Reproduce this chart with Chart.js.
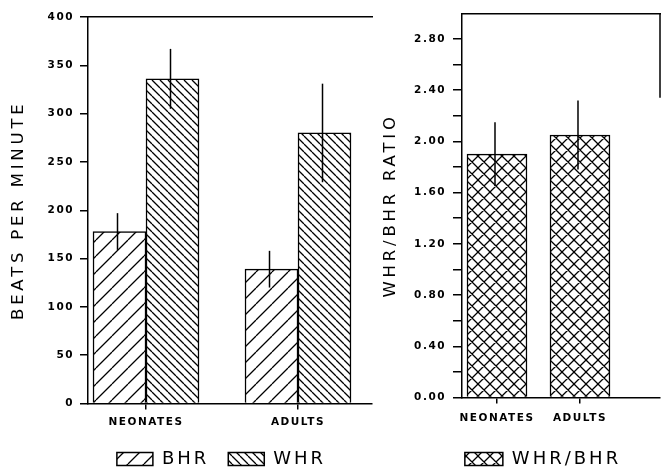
<!DOCTYPE html>
<html><head><meta charset="utf-8">
<script src="https://cdn.jsdelivr.net/npm/chart.js@4.4.1/dist/chart.umd.min.js"></script>
<style>
html,body{margin:0;padding:0;background:#fff;overflow:hidden;width:662px;height:470px;position:relative;}
canvas{position:absolute;top:0;}
#left{left:0;}
#right{left:370px;}
</style></head><body>
<canvas id="left" width="443" height="478"></canvas>
<canvas id="right" width="346" height="478"></canvas>
<script>
// ---- data ----
const categories = ['NEONATES', 'ADULTS'];
const bhrValues = [178, 139];
const bhrErrors = [19, 19];
const whrValues = [336, 280];
const whrErrors = [31, 51];
const ratioValues = [1.90, 2.05];
const ratioErrors = [0.25, 0.27];
const leftTicks = [0, 50, 100, 150, 200, 250, 300, 350, 400];
const rightTicks = [0, 0.2, 0.4, 0.6, 0.8, 1.0, 1.2, 1.4, 1.6, 1.8, 2.0, 2.2, 2.4, 2.6, 2.8];
const rightLabeledTicks = [0, 0.4, 0.8, 1.2, 1.6, 2.0, 2.4, 2.8];
const rightEdgeEnd = 2.34;

Chart.defaults.font.family = "'DejaVu Sans', sans-serif";
Chart.defaults.color = '#000';

function hatch(ctx, kind, s, lw) {
  const c = document.createElement('canvas'); c.width = s; c.height = s;
  const g = c.getContext('2d');
  g.fillStyle = '#fff'; g.fillRect(0, 0, s, s);
  g.strokeStyle = '#000'; g.lineWidth = lw;
  g.beginPath();
  for (const k of [-s, 0, s]) {
    if (kind === '/' || kind === 'x') { g.moveTo(k, s); g.lineTo(k + s, 0); }
    if (kind === '\\' || kind === 'x') { g.moveTo(k, 0); g.lineTo(k + s, s); }
  }
  g.stroke();
  return ctx.createPattern(c, 'repeat');
}

function withSpacing(obj, name, sp) {
  const key = '__ls_' + name;
  if (!obj || obj[key] || typeof obj[name] !== 'function') return;
  const orig = obj[name];
  obj[name] = function (...args) {
    const c = this.ctx; const prev = c.letterSpacing; c.letterSpacing = sp;
    try { return orig.apply(this, args); } finally { c.letterSpacing = prev; }
  };
  obj[key] = true;
}
function applySpacing(chart) {
  Object.values(chart.scales).forEach(s => { withSpacing(s, 'drawLabels', '1.5px'); withSpacing(s, 'drawTitle', '3.8px'); });
  if (chart.legend) { withSpacing(chart.legend, 'fit', '3px'); withSpacing(chart.legend, 'draw', '3px'); }
}
const spacingPlugin = { id: 'spacing', beforeLayout: applySpacing, beforeDraw: applySpacing };

const errorBars = { id: 'errorBars', afterDatasetsDraw(chart) {
  const ctx = chart.ctx; const y = chart.scales.y;
  ctx.save(); ctx.strokeStyle = '#000'; ctx.lineWidth = 1.5;
  chart.data.datasets.forEach((ds, i) => {
    const meta = chart.getDatasetMeta(i);
    meta.data.forEach((el, j) => {
      const v = ds.data[j].y, e = ds.errors[j];
      const x = el.x - 2;
      ctx.beginPath();
      ctx.moveTo(x, y.getPixelForValue(v + e));
      ctx.lineTo(x, y.getPixelForValue(v - e));
      ctx.stroke();
    });
  });
  ctx.restore();
}};

function yAxis(min, max, ticks, labelFn, title, width, titlePadTop, tickPad, tickLen) {
  return {
    type: 'linear', position: 'left', min, max, bounds: 'data',
    afterBuildTicks: s => { s.ticks = ticks.map(v => ({ value: v })); },
    afterFit: s => { s.width = width; },
    grid: { display: true, drawOnChartArea: false, drawTicks: true, tickLength: tickLen, color: '#000', lineWidth: 1.5 },
    border: { display: true, color: '#000', width: 1.5 },
    ticks: { color: '#000', font: { size: 10.5, weight: 'bold' }, padding: tickPad, autoSkip: false, callback: labelFn },
    title: { display: true, text: title, color: '#000', font: { size: 16.5 }, padding: { top: titlePadTop, bottom: 0 } }
  };
}
function xAxis(min, max, height, tickPad) {
  return {
    type: 'linear', position: 'bottom', min, max, bounds: 'data', offset: false,
    afterBuildTicks: s => { s.ticks = categories.map((c, i) => ({ value: i })); },
    afterFit: s => { s.height = height; },
    grid: { display: true, offset: false, drawOnChartArea: false, drawTicks: true, tickLength: 6, color: '#000', lineWidth: 1.5 },
    border: { display: true, color: '#000', width: 1.5 },
    ticks: { color: '#000', font: { size: 10.5, weight: 'bold' }, padding: tickPad, autoSkip: false, maxRotation: 0,
      callback: v => (categories[v] !== undefined ? categories[v] : '') }
  };
}
function topAxis(min, max) {
  return { type: 'linear', position: 'top', min, max, display: true,
    afterFit: s => { s.height = 0; },
    grid: { display: false, drawTicks: false }, ticks: { display: false },
    border: { display: true, color: '#000', width: 1.5 } };
}
function padAxis(w) {
  return { type: 'linear', position: 'right', display: true,
    afterFit: s => { s.width = w; },
    grid: { display: false, drawTicks: false }, ticks: { display: false },
    border: { display: false } };
}
const legendOpts = (bw) => ({ display: true, position: 'bottom', align: 'center',
  labels: { color: '#000', font: { size: 18 }, boxWidth: bw, boxHeight: 13, padding: 19 } });

// ---- left chart ----
const lctx = document.getElementById('left').getContext('2d');
new Chart(lctx, {
  type: 'bar',
  data: { datasets: [
    { label: 'BHR', data: bhrValues.map((v, i) => ({ x: i, y: v })), errors: bhrErrors,
      backgroundColor: hatch(lctx, '/', 16, 1.3), borderColor: '#000', borderWidth: 1.5, barThickness: 53 },
    { label: 'WHR', data: whrValues.map((v, i) => ({ x: i, y: v })), errors: whrErrors,
      backgroundColor: hatch(lctx, '\\', 8, 1.3), borderColor: '#000', borderWidth: 1.5, barThickness: 53 }
  ]},
  options: {
    responsive: false, animation: false, devicePixelRatio: 1,
    layout: { padding: { top: 17, left: 0, right: 0, bottom: 0 }, autoPadding: false },
    plugins: { legend: legendOpts(36), tooltip: { enabled: false } },
    scales: {
      x: xAxis(-0.3816, 1.4868, 27.5, 6),
      xTop: topAxis(-0.3816, 1.4868),
      y: yAxis(0, 400, leftTicks, v => String(v), 'BEATS PER MINUTE', 88, 9, 6, 8),
      pad: padAxis(71)
    }
  },
  plugins: [spacingPlugin, errorBars]
});

// ---- right chart ----
const rctx = document.getElementById('right').getContext('2d');
const rightEdge = { id: 'rightEdge', afterDraw(chart) {
  const ctx = chart.ctx; const { right, top } = chart.chartArea;
  const yb = chart.scales.y.getPixelForValue(rightEdgeEnd);
  ctx.save(); ctx.strokeStyle = '#000'; ctx.lineWidth = 1.5;
  ctx.beginPath(); ctx.moveTo(right, top); ctx.lineTo(right, yb); ctx.stroke(); ctx.restore();
}};
new Chart(rctx, {
  type: 'bar',
  data: { datasets: [
    { label: 'WHR/BHR', data: ratioValues.map((v, i) => ({ x: i, y: v })), errors: ratioErrors,
      backgroundColor: hatch(rctx, 'x', 12, 1.3), borderColor: '#000', borderWidth: 1.5, barThickness: 60 }
  ]},
  options: {
    responsive: false, animation: false, devicePixelRatio: 1,
    layout: { padding: { top: 11, left: 0, right: 0, bottom: 0 }, autoPadding: false },
    plugins: { legend: legendOpts(38), tooltip: { enabled: false } },
    scales: {
      x: xAxis(-0.4217, 1.964, 33.5, 8),
      xTop: topAxis(-0.4217, 1.964),
      y: yAxis(0, 3.0, rightTicks,
        v => (rightLabeledTicks.some(t => Math.abs(t - v) < 1e-6) ? v.toFixed(2) : ''),
        'WHR/BHR RATIO', 92, 11, 7, 9),
      pad: padAxis(56)
    }
  },
  plugins: [spacingPlugin, errorBars, rightEdge]
});
</script>
</body></html>
